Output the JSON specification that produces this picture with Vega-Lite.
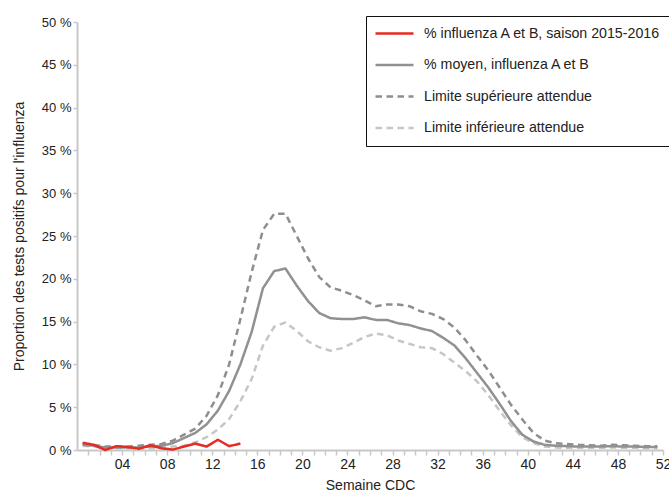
{
  "$schema": "https://vega.github.io/schema/vega-lite/v6.json",
  "width": 586,
  "height": 428,
  "autosize": {"type": "none"},
  "padding": {"left": 77, "top": 22, "right": 6, "bottom": 44},
  "background": "white",
  "config": {
    "view": {"stroke": null},
    "font": "Liberation Sans",
    "axis": {"grid": false, "labelColor": "#222222", "titleColor": "#222222", "titleFontWeight": "normal"}
  },
  "datasets": {
    "flu": [
      {"week": 1, "series": "Limite inférieure attendue", "value": 0.5},
      {"week": 2, "series": "Limite inférieure attendue", "value": 0.4},
      {"week": 3, "series": "Limite inférieure attendue", "value": 0.2},
      {"week": 4, "series": "Limite inférieure attendue", "value": 0.2},
      {"week": 5, "series": "Limite inférieure attendue", "value": 0.2},
      {"week": 6, "series": "Limite inférieure attendue", "value": 0.2},
      {"week": 7, "series": "Limite inférieure attendue", "value": 0.2},
      {"week": 8, "series": "Limite inférieure attendue", "value": 0.3},
      {"week": 9, "series": "Limite inférieure attendue", "value": 0.4},
      {"week": 10, "series": "Limite inférieure attendue", "value": 0.5},
      {"week": 11, "series": "Limite inférieure attendue", "value": 0.9},
      {"week": 12, "series": "Limite inférieure attendue", "value": 1.5},
      {"week": 13, "series": "Limite inférieure attendue", "value": 2.4},
      {"week": 14, "series": "Limite inférieure attendue", "value": 3.6},
      {"week": 15, "series": "Limite inférieure attendue", "value": 5.7},
      {"week": 16, "series": "Limite inférieure attendue", "value": 8.3},
      {"week": 17, "series": "Limite inférieure attendue", "value": 12.2},
      {"week": 18, "series": "Limite inférieure attendue", "value": 14.4},
      {"week": 19, "series": "Limite inférieure attendue", "value": 14.9},
      {"week": 20, "series": "Limite inférieure attendue", "value": 13.9},
      {"week": 21, "series": "Limite inférieure attendue", "value": 12.7},
      {"week": 22, "series": "Limite inférieure attendue", "value": 12.0},
      {"week": 23, "series": "Limite inférieure attendue", "value": 11.6},
      {"week": 24, "series": "Limite inférieure attendue", "value": 11.9},
      {"week": 25, "series": "Limite inférieure attendue", "value": 12.5},
      {"week": 26, "series": "Limite inférieure attendue", "value": 13.2},
      {"week": 27, "series": "Limite inférieure attendue", "value": 13.6},
      {"week": 28, "series": "Limite inférieure attendue", "value": 13.4},
      {"week": 29, "series": "Limite inférieure attendue", "value": 12.8},
      {"week": 30, "series": "Limite inférieure attendue", "value": 12.4},
      {"week": 31, "series": "Limite inférieure attendue", "value": 12.0},
      {"week": 32, "series": "Limite inférieure attendue", "value": 11.9},
      {"week": 33, "series": "Limite inférieure attendue", "value": 11.2},
      {"week": 34, "series": "Limite inférieure attendue", "value": 10.2},
      {"week": 35, "series": "Limite inférieure attendue", "value": 9.2},
      {"week": 36, "series": "Limite inférieure attendue", "value": 8.0},
      {"week": 37, "series": "Limite inférieure attendue", "value": 6.4},
      {"week": 38, "series": "Limite inférieure attendue", "value": 4.6},
      {"week": 39, "series": "Limite inférieure attendue", "value": 2.9},
      {"week": 40, "series": "Limite inférieure attendue", "value": 1.5},
      {"week": 41, "series": "Limite inférieure attendue", "value": 0.8},
      {"week": 42, "series": "Limite inférieure attendue", "value": 0.4},
      {"week": 43, "series": "Limite inférieure attendue", "value": 0.3},
      {"week": 44, "series": "Limite inférieure attendue", "value": 0.25},
      {"week": 45, "series": "Limite inférieure attendue", "value": 0.25},
      {"week": 46, "series": "Limite inférieure attendue", "value": 0.25},
      {"week": 47, "series": "Limite inférieure attendue", "value": 0.25},
      {"week": 48, "series": "Limite inférieure attendue", "value": 0.3},
      {"week": 49, "series": "Limite inférieure attendue", "value": 0.25},
      {"week": 50, "series": "Limite inférieure attendue", "value": 0.25},
      {"week": 51, "series": "Limite inférieure attendue", "value": 0.2},
      {"week": 52, "series": "Limite inférieure attendue", "value": 0.2},

      {"week": 1, "series": "Limite supérieure attendue", "value": 0.7},
      {"week": 2, "series": "Limite supérieure attendue", "value": 0.6},
      {"week": 3, "series": "Limite supérieure attendue", "value": 0.4},
      {"week": 4, "series": "Limite supérieure attendue", "value": 0.4},
      {"week": 5, "series": "Limite supérieure attendue", "value": 0.4},
      {"week": 6, "series": "Limite supérieure attendue", "value": 0.5},
      {"week": 7, "series": "Limite supérieure attendue", "value": 0.6},
      {"week": 8, "series": "Limite supérieure attendue", "value": 0.7},
      {"week": 9, "series": "Limite supérieure attendue", "value": 1.1},
      {"week": 10, "series": "Limite supérieure attendue", "value": 1.8},
      {"week": 11, "series": "Limite supérieure attendue", "value": 2.5},
      {"week": 12, "series": "Limite supérieure attendue", "value": 4.0},
      {"week": 13, "series": "Limite supérieure attendue", "value": 6.4},
      {"week": 14, "series": "Limite supérieure attendue", "value": 10.0},
      {"week": 15, "series": "Limite supérieure attendue", "value": 15.3},
      {"week": 16, "series": "Limite supérieure attendue", "value": 20.8},
      {"week": 17, "series": "Limite supérieure attendue", "value": 25.7},
      {"week": 18, "series": "Limite supérieure attendue", "value": 27.6},
      {"week": 19, "series": "Limite supérieure attendue", "value": 27.6},
      {"week": 20, "series": "Limite supérieure attendue", "value": 25.0},
      {"week": 21, "series": "Limite supérieure attendue", "value": 22.4},
      {"week": 22, "series": "Limite supérieure attendue", "value": 20.2},
      {"week": 23, "series": "Limite supérieure attendue", "value": 19.0},
      {"week": 24, "series": "Limite supérieure attendue", "value": 18.6},
      {"week": 25, "series": "Limite supérieure attendue", "value": 18.1},
      {"week": 26, "series": "Limite supérieure attendue", "value": 17.5},
      {"week": 27, "series": "Limite supérieure attendue", "value": 16.8},
      {"week": 28, "series": "Limite supérieure attendue", "value": 17.0},
      {"week": 29, "series": "Limite supérieure attendue", "value": 17.0},
      {"week": 30, "series": "Limite supérieure attendue", "value": 16.8},
      {"week": 31, "series": "Limite supérieure attendue", "value": 16.2},
      {"week": 32, "series": "Limite supérieure attendue", "value": 15.9},
      {"week": 33, "series": "Limite supérieure attendue", "value": 15.3},
      {"week": 34, "series": "Limite supérieure attendue", "value": 14.3},
      {"week": 35, "series": "Limite supérieure attendue", "value": 12.8},
      {"week": 36, "series": "Limite supérieure attendue", "value": 11.0},
      {"week": 37, "series": "Limite supérieure attendue", "value": 9.3},
      {"week": 38, "series": "Limite supérieure attendue", "value": 7.3},
      {"week": 39, "series": "Limite supérieure attendue", "value": 5.3},
      {"week": 40, "series": "Limite supérieure attendue", "value": 3.6},
      {"week": 41, "series": "Limite supérieure attendue", "value": 2.0},
      {"week": 42, "series": "Limite supérieure attendue", "value": 1.1},
      {"week": 43, "series": "Limite supérieure attendue", "value": 0.8},
      {"week": 44, "series": "Limite supérieure attendue", "value": 0.7},
      {"week": 45, "series": "Limite supérieure attendue", "value": 0.6},
      {"week": 46, "series": "Limite supérieure attendue", "value": 0.55},
      {"week": 47, "series": "Limite supérieure attendue", "value": 0.5},
      {"week": 48, "series": "Limite supérieure attendue", "value": 0.6},
      {"week": 49, "series": "Limite supérieure attendue", "value": 0.55},
      {"week": 50, "series": "Limite supérieure attendue", "value": 0.5},
      {"week": 51, "series": "Limite supérieure attendue", "value": 0.45},
      {"week": 52, "series": "Limite supérieure attendue", "value": 0.45},

      {"week": 1, "series": "% moyen, influenza A et B", "value": 0.6},
      {"week": 2, "series": "% moyen, influenza A et B", "value": 0.5},
      {"week": 3, "series": "% moyen, influenza A et B", "value": 0.3},
      {"week": 4, "series": "% moyen, influenza A et B", "value": 0.3},
      {"week": 5, "series": "% moyen, influenza A et B", "value": 0.3},
      {"week": 6, "series": "% moyen, influenza A et B", "value": 0.3},
      {"week": 7, "series": "% moyen, influenza A et B", "value": 0.4},
      {"week": 8, "series": "% moyen, influenza A et B", "value": 0.5},
      {"week": 9, "series": "% moyen, influenza A et B", "value": 0.8},
      {"week": 10, "series": "% moyen, influenza A et B", "value": 1.4},
      {"week": 11, "series": "% moyen, influenza A et B", "value": 2.0},
      {"week": 12, "series": "% moyen, influenza A et B", "value": 3.0},
      {"week": 13, "series": "% moyen, influenza A et B", "value": 4.6},
      {"week": 14, "series": "% moyen, influenza A et B", "value": 6.9},
      {"week": 15, "series": "% moyen, influenza A et B", "value": 10.0},
      {"week": 16, "series": "% moyen, influenza A et B", "value": 13.8},
      {"week": 17, "series": "% moyen, influenza A et B", "value": 18.9},
      {"week": 18, "series": "% moyen, influenza A et B", "value": 20.9},
      {"week": 19, "series": "% moyen, influenza A et B", "value": 21.2},
      {"week": 20, "series": "% moyen, influenza A et B", "value": 19.2},
      {"week": 21, "series": "% moyen, influenza A et B", "value": 17.4},
      {"week": 22, "series": "% moyen, influenza A et B", "value": 16.0},
      {"week": 23, "series": "% moyen, influenza A et B", "value": 15.4},
      {"week": 24, "series": "% moyen, influenza A et B", "value": 15.3},
      {"week": 25, "series": "% moyen, influenza A et B", "value": 15.3},
      {"week": 26, "series": "% moyen, influenza A et B", "value": 15.5},
      {"week": 27, "series": "% moyen, influenza A et B", "value": 15.2},
      {"week": 28, "series": "% moyen, influenza A et B", "value": 15.2},
      {"week": 29, "series": "% moyen, influenza A et B", "value": 14.8},
      {"week": 30, "series": "% moyen, influenza A et B", "value": 14.6},
      {"week": 31, "series": "% moyen, influenza A et B", "value": 14.2},
      {"week": 32, "series": "% moyen, influenza A et B", "value": 13.9},
      {"week": 33, "series": "% moyen, influenza A et B", "value": 13.1},
      {"week": 34, "series": "% moyen, influenza A et B", "value": 12.2},
      {"week": 35, "series": "% moyen, influenza A et B", "value": 10.7},
      {"week": 36, "series": "% moyen, influenza A et B", "value": 9.0},
      {"week": 37, "series": "% moyen, influenza A et B", "value": 7.3},
      {"week": 38, "series": "% moyen, influenza A et B", "value": 5.4},
      {"week": 39, "series": "% moyen, influenza A et B", "value": 3.4},
      {"week": 40, "series": "% moyen, influenza A et B", "value": 1.8},
      {"week": 41, "series": "% moyen, influenza A et B", "value": 1.0},
      {"week": 42, "series": "% moyen, influenza A et B", "value": 0.6},
      {"week": 43, "series": "% moyen, influenza A et B", "value": 0.5},
      {"week": 44, "series": "% moyen, influenza A et B", "value": 0.45},
      {"week": 45, "series": "% moyen, influenza A et B", "value": 0.4},
      {"week": 46, "series": "% moyen, influenza A et B", "value": 0.4},
      {"week": 47, "series": "% moyen, influenza A et B", "value": 0.4},
      {"week": 48, "series": "% moyen, influenza A et B", "value": 0.45},
      {"week": 49, "series": "% moyen, influenza A et B", "value": 0.4},
      {"week": 50, "series": "% moyen, influenza A et B", "value": 0.4},
      {"week": 51, "series": "% moyen, influenza A et B", "value": 0.35},
      {"week": 52, "series": "% moyen, influenza A et B", "value": 0.35},

      {"week": 1, "series": "% influenza A et B, saison 2015-2016", "value": 0.85},
      {"week": 2, "series": "% influenza A et B, saison 2015-2016", "value": 0.6},
      {"week": 3, "series": "% influenza A et B, saison 2015-2016", "value": 0.0},
      {"week": 4, "series": "% influenza A et B, saison 2015-2016", "value": 0.45},
      {"week": 5, "series": "% influenza A et B, saison 2015-2016", "value": 0.35},
      {"week": 6, "series": "% influenza A et B, saison 2015-2016", "value": 0.15},
      {"week": 7, "series": "% influenza A et B, saison 2015-2016", "value": 0.55},
      {"week": 8, "series": "% influenza A et B, saison 2015-2016", "value": 0.2},
      {"week": 9, "series": "% influenza A et B, saison 2015-2016", "value": 0.05},
      {"week": 10, "series": "% influenza A et B, saison 2015-2016", "value": 0.4},
      {"week": 11, "series": "% influenza A et B, saison 2015-2016", "value": 0.75},
      {"week": 12, "series": "% influenza A et B, saison 2015-2016", "value": 0.4},
      {"week": 13, "series": "% influenza A et B, saison 2015-2016", "value": 1.2},
      {"week": 14, "series": "% influenza A et B, saison 2015-2016", "value": 0.45},
      {"week": 15, "series": "% influenza A et B, saison 2015-2016", "value": 0.75}
    ]
  },
  "data": {"name": "flu"},
  "mark": {"type": "line", "strokeCap": "butt", "strokeJoin": "round"},
  "encoding": {
    "x": {
      "field": "week",
      "type": "quantitative",
      "scale": {"domain": [0.5, 52.5], "nice": false, "zero": false},
      "axis": {
        "title": "Semaine CDC",
        "values": [1.5,2.5,3.5,4.5,5.5,6.5,7.5,8.5,9.5,10.5,11.5,12.5,13.5,14.5,15.5,16.5,17.5,18.5,19.5,20.5,21.5,22.5,23.5,24.5,25.5,26.5,27.5,28.5,29.5,30.5,31.5,32.5,33.5,34.5,35.5,36.5,37.5,38.5,39.5,40.5,41.5,42.5,43.5,44.5,45.5,46.5,47.5,48.5,49.5,50.5,51.5,52.5],
        "labelExpr": "(datum.value - 0.5) % 4 == 0 ? format(datum.value - 0.5, '02d') : ''",
        "labelOverlap": false,
        "labelFlush": false,
        "labelFontSize": 14,
        "labelPadding": 2,
        "domainColor": "#c8c8c8",
        "domainWidth": 2,
        "tickColor": "#c8c8c8",
        "tickWidth": 1.5,
        "tickSize": 5,
        "titleFontSize": 14,
        "titlePadding": 7
      }
    },
    "y": {
      "field": "value",
      "type": "quantitative",
      "scale": {"domain": [0, 50], "nice": false},
      "axis": {
        "title": "Proportion des tests positifs pour l'influenza",
        "values": [0,5,10,15,20,25,30,35,40,45,50],
        "labelExpr": "datum.value + ' %'",
        "labelFontSize": 13,
        "labelPadding": 2,
        "domainColor": "#c8c8c8",
        "domainWidth": 2,
        "tickColor": "#c8c8c8",
        "tickWidth": 1.5,
        "tickSize": 4,
        "titleFontSize": 14,
        "titlePadding": 15
      }
    },
    "color": {
      "field": "series",
      "type": "nominal",
      "scale": {
        "domain": ["% influenza A et B, saison 2015-2016", "% moyen, influenza A et B", "Limite supérieure attendue", "Limite inférieure attendue"],
        "range": ["#e52b22", "#919191", "#8e8e8e", "#c6c6c6"]
      },
      "legend": {
        "title": null,
        "orient": "none",
        "legendX": 289,
        "legendY": -6,
        "symbolType": "stroke",
        "symbolSize": 1444,
        "clipHeight": 19,
        "rowPadding": 12.5,
        "padding": 8,
        "labelFontSize": 14.2,
        "labelColor": "#222222",
        "labelOffset": 9,
        "labelLimit": 400,
        "strokeColor": "#111111",
        "fillColor": "white"
      }
    },
    "strokeDash": {
      "field": "series",
      "type": "nominal",
      "scale": {
        "domain": ["% influenza A et B, saison 2015-2016", "% moyen, influenza A et B", "Limite supérieure attendue", "Limite inférieure attendue"],
        "range": [[1, 0], [1, 0], [6.5, 4.5], [6.5, 4.5]]
      }
    },
    "strokeWidth": {
      "field": "series",
      "type": "nominal",
      "scale": {
        "domain": ["% influenza A et B, saison 2015-2016", "% moyen, influenza A et B", "Limite supérieure attendue", "Limite inférieure attendue"],
        "range": [2.5, 2.5, 2, 2]
      }
    }
  }
}
